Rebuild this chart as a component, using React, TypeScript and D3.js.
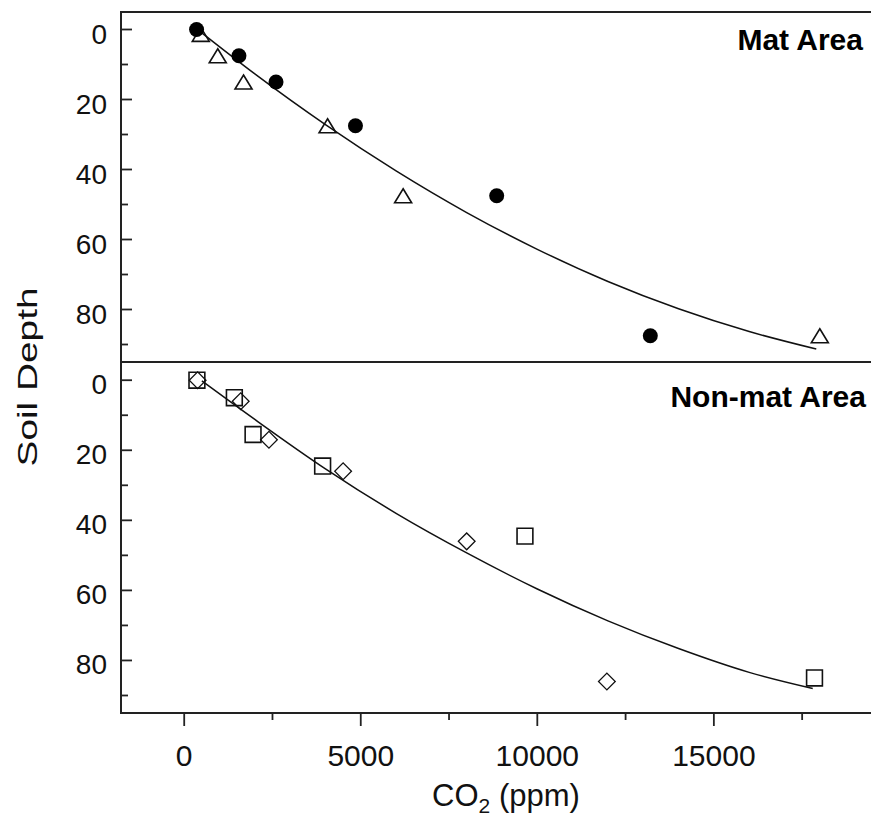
import React from 'react';
import * as d3 from 'd3';

// Mat Area
const matDepths = [0, 7.5, 15, 27.5, 47.5, 87.5];
const matCircleCO2 = [350, 1550, 2600, 4850, 8850, 13200];
const matTriangleCO2 = [470, 950, 1680, 4060, 6200, 18000];
const matTriangleDepth = [1.4, 7.5, 15, 27.5, 47.5, 87.5];
const matFitCO2 = [450, 2000, 4000, 6000, 8000, 10000, 12000, 14000, 16000, 17900];
const matFitDepth = [0.6, 12.7, 27.2, 40.4, 52.3, 62.8, 72.0, 79.8, 86.3, 91.3];

// Non-mat Area
const nonSquareCO2 = [360, 1420, 1950, 3920, 9650, 17850];
const nonSquareDepth = [0, 5, 15.5, 24.5, 44.5, 85];
const nonDiamondCO2 = [380, 1600, 2400, 4500, 8000, 11970];
const nonDiamondDepth = [0, 6, 17, 26, 46, 86];
const nonFitCO2 = [500, 2000, 4000, 6000, 8000, 10000, 12000, 14000, 16000, 17800];
const nonFitDepth = [0.2, 11.2, 25.3, 38.0, 49.3, 59.6, 68.7, 76.6, 83.4, 88.0];

const xMajorTicks = [0, 5000, 10000, 15000];
const xMinorTicks = [2500, 7500, 12500, 17500];
const yMajorTicks = [0, 20, 40, 60, 80];
const yMinorTicks = [10, 30, 50, 70, 90];

const W = 871;
const H = 820;
const LEFT = 121;
const RIGHT = 871;
const TOP = 12;
const MID = 362;
const BOTTOM = 713;
const FONT = 'Arial, "Liberation Sans", Helvetica, sans-serif';

export default function App() {
  const x = d3.scaleLinear().domain([-1790, 19450]).range([LEFT, RIGHT]);
  const yTop = d3.scaleLinear().domain([-5, 95]).range([TOP, MID]);
  const yBot = d3.scaleLinear().domain([-5.2, 95]).range([MID, BOTTOM]);

  const line = (xs: number[], ys: number[], y: d3.ScaleLinear<number, number>) =>
    d3
      .line<number>()
      .x((_, i) => x(xs[i]))
      .y((_, i) => y(ys[i]))
      .curve(d3.curveMonotoneX)(xs.map((_, i) => i)) || '';

  const tri = 'M0,-7L8.5,7L-8.5,7Z';
  const sq = d3.symbol(d3.symbolSquare, 250)() || '';
  const dia = d3.symbol(d3.symbolSquare, 140)() || '';

  const yAxis = (y: d3.ScaleLinear<number, number>, key: string) => (
    <g key={key}>
      {yMajorTicks.map((t) => (
        <g key={'M' + t}>
          <line x1={LEFT} x2={LEFT + 11} y1={y(t)} y2={y(t)} stroke="#222" strokeWidth={1.8} />
          <text x={107} y={y(t) + 14} textAnchor="end" fontSize={28} fontFamily={FONT} fill="#111">
            {t}
          </text>
        </g>
      ))}
      {yMinorTicks.map((t) => (
        <line key={'m' + t} x1={LEFT} x2={LEFT + 7} y1={y(t)} y2={y(t)} stroke="#222" strokeWidth={1.8} />
      ))}
    </g>
  );

  return (
    <svg width={W} height={H} style={{ position: 'absolute', left: 0, top: 0, background: '#fff' }}>
      <rect x={0} y={0} width={W} height={H} fill="#fff" />
      {/* frame */}
      <line x1={LEFT} x2={RIGHT} y1={TOP} y2={TOP} stroke="#222" strokeWidth={2} />
      <line x1={LEFT} x2={RIGHT} y1={MID} y2={MID} stroke="#222" strokeWidth={2} />
      <line x1={LEFT} x2={RIGHT} y1={BOTTOM} y2={BOTTOM} stroke="#222" strokeWidth={2} />
      <line x1={LEFT} x2={LEFT} y1={TOP - 1} y2={BOTTOM + 1} stroke="#222" strokeWidth={2} />

      {yAxis(yTop, 'top')}
      {yAxis(yBot, 'bot')}

      {/* x ticks */}
      {xMajorTicks.map((t) => (
        <g key={'x' + t}>
          <line x1={x(t)} x2={x(t)} y1={BOTTOM} y2={BOTTOM + 13} stroke="#222" strokeWidth={1.8} />
          <text x={x(t)} y={766} textAnchor="middle" fontSize={30} fontFamily={FONT} fill="#111">
            {t}
          </text>
        </g>
      ))}
      {xMinorTicks.map((t) => (
        <line key={'xm' + t} x1={x(t)} x2={x(t)} y1={BOTTOM} y2={BOTTOM + 7} stroke="#222" strokeWidth={1.8} />
      ))}

      {/* axis titles */}
      <text x={506} y={806} textAnchor="middle" fontSize={31} fontFamily={FONT} fill="#111">
        CO
        <tspan fontSize={21} dy={7}>2</tspan>
        <tspan dy={-7}> (ppm)</tspan>
      </text>
      <text
        transform={`translate(37, 377) rotate(-90)`}
        textAnchor="middle"
        fontSize={28}
        fontFamily={FONT}
        fill="#111"
        textLength={179}
        lengthAdjust="spacingAndGlyphs"
      >
        Soil Depth
      </text>

      {/* panel labels */}
      <text x={863} y={50} textAnchor="end" fontSize={30} fontWeight="bold" fontFamily={FONT} fill="#000">
        Mat Area
      </text>
      <text x={866} y={407} textAnchor="end" fontSize={30} fontWeight="bold" fontFamily={FONT} fill="#000">
        Non-mat Area
      </text>

      {/* fit curves */}
      <path d={line(matFitCO2, matFitDepth, yTop)} fill="none" stroke="#111" strokeWidth={1.5} />
      <path d={line(nonFitCO2, nonFitDepth, yBot)} fill="none" stroke="#111" strokeWidth={1.5} />

      {/* Mat Area points */}
      {matTriangleCO2.map((c, i) => (
        <path
          key={'t' + i}
          d={tri}
          transform={`translate(${x(c)},${yTop(matTriangleDepth[i])})`}
          fill="none"
          stroke="#111"
          strokeWidth={1.6}
        />
      ))}
      {matCircleCO2.map((c, i) => (
        <circle key={'c' + i} cx={x(c)} cy={yTop(matDepths[i])} r={7.5} fill="#000" />
      ))}

      {/* Non-mat Area points */}
      {nonSquareCO2.map((c, i) => (
        <path
          key={'s' + i}
          d={sq}
          transform={`translate(${x(c)},${yBot(nonSquareDepth[i])})`}
          fill="none"
          stroke="#111"
          strokeWidth={1.6}
        />
      ))}
      {nonDiamondCO2.map((c, i) => (
        <path
          key={'d' + i}
          d={dia}
          transform={`translate(${x(c)},${yBot(nonDiamondDepth[i])}) rotate(45)`}
          fill="none"
          stroke="#111"
          strokeWidth={1.3}
        />
      ))}
    </svg>
  );
}
